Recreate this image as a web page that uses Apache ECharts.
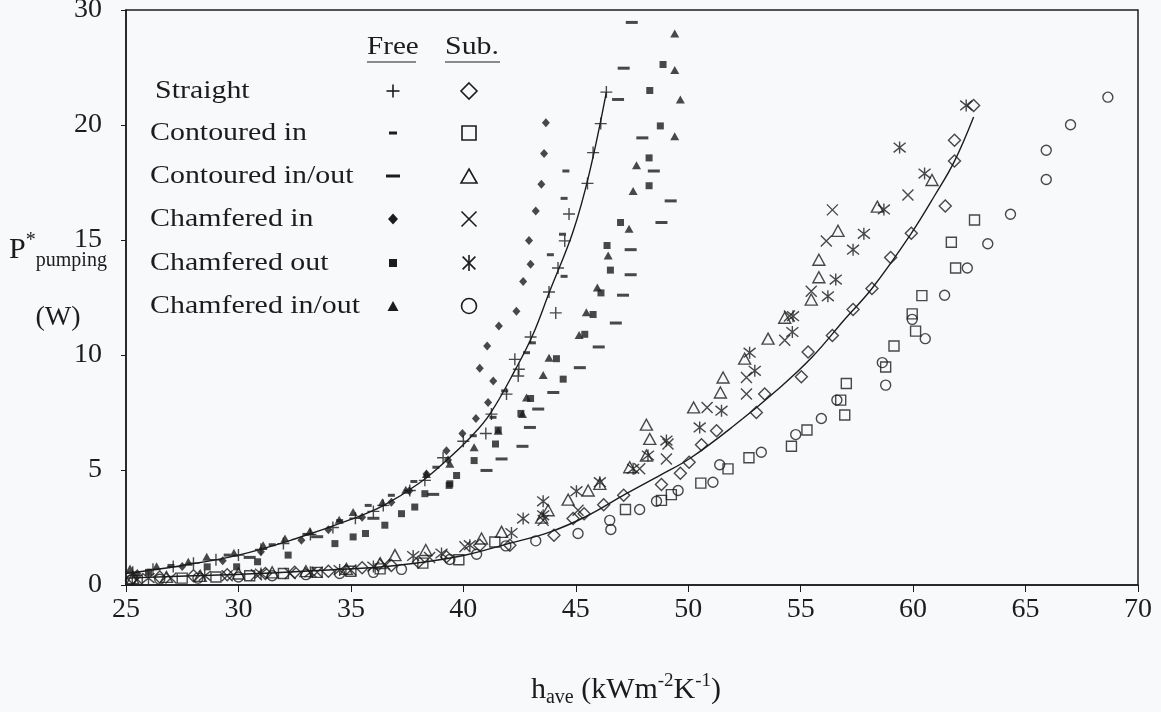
<!DOCTYPE html>
<html lang="en" style="height: 100%">
<head>
  <meta charset="utf-8">
</head>
<body style="height: 100%; margin: 0">
<div id="container" style="height: 100%"></div>

<script type="text/javascript" src="https://cdn.jsdelivr.net/npm/echarts@6/dist/echarts.min.js"></script>

<script type="text/javascript">
  // ---- data ----
  var rowNames = ['Straight', 'Contoured in', 'Contoured in/out', 'Chamfered in', 'Chamfered out', 'Chamfered in/out'];
  var yTickLabels = ['0', '5', '10', '15', '20', '30'];

  // free (filled symbols)
  var freeStraight = [[25.3,0.55],[26.2,0.68],[27.1,0.8],[28.0,0.95],[29.0,1.1],[30.0,1.3],[31.0,1.55],[32.0,1.8],[33.2,2.2],[34.2,2.5],[35.2,2.9],[36.0,3.2],[36.44,3.46],[37.62,4.11],[38.29,4.55],[39.1,5.53],[40.0,6.25],[41.0,6.59],[41.25,7.43],[41.92,8.3],[42.44,9.09],[42.47,9.38],[42.29,9.81],[42.99,10.78],[44.11,11.83],[43.81,12.74],[44.21,13.78],[44.51,14.96],[44.7,16.13],[45.52,17.46],[45.77,18.8],[46.11,20.06],[46.36,21.43]];
  var freeContIn = [[27.0,0.85],[29.5,1.3],[31.5,1.75],[33.0,2.2],[34.5,2.8],[35.77,3.46],[36.8,3.9],[37.8,4.5],[38.78,5.12],[40.44,6.49],[41.32,7.29],[41.84,8.44],[42.81,10.1],[43.07,10.53],[44.48,13.42],[43.87,14.36],[44.41,15.25],[44.48,16.81],[44.56,18.0]];
  var freeContInOut = [[30.5,1.2],[33.5,2.1],[36.0,2.9],[38.66,3.94],[41.03,4.98],[41.7,5.48],[42.63,6.03],[42.96,6.85],[43.33,7.65],[44.0,8.37],[45.18,9.45],[46.02,10.35],[46.78,11.39],[47.1,12.6],[47.44,13.49],[47.44,14.58],[48.81,15.76],[49.22,16.7],[48.47,18.0],[47.96,19.44],[46.88,21.11],[47.13,22.47],[47.49,24.46]];
  var freeChamIn = [[25.5,0.5],[27.5,0.8],[29.3,1.05],[31.0,1.45],[32.8,1.95],[34.0,2.4],[35.5,2.95],[36.8,3.6],[37.6,4.1],[38.36,4.83],[39.32,5.44],[39.25,5.84],[39.96,6.59],[40.56,7.24],[41.1,7.94],[41.33,8.87],[40.73,9.42],[41.06,10.39],[41.58,11.26],[42.36,11.9],[42.66,13.2],[42.99,13.95],[42.92,14.98],[43.22,16.26],[43.47,17.42],[43.59,18.76],[43.67,20.1]];
  var freeChamOut = [[26.0,0.55],[28.61,0.79],[29.92,0.79],[30.85,1.01],[32.21,1.3],[34.29,1.8],[35.1,2.09],[35.65,2.24],[36.51,2.6],[37.25,3.1],[37.84,3.39],[38.29,3.97],[39.37,4.33],[39.4,4.4],[39.7,4.76],[40.48,5.41],[41.43,6.13],[41.55,6.74],[42.56,7.46],[42.99,8.11],[44.44,8.95],[44.14,9.84],[45.4,10.9],[45.77,11.76],[46.12,12.7],[46.54,13.69],[46.39,14.76],[46.99,15.76],[48.26,17.36],[48.26,18.57],[48.76,19.96],[48.29,21.5],[48.88,22.63]];
  var freeChamInOut = [[25.18,0.72],[26.36,0.82],[27.77,1.01],[28.59,1.23],[29.8,1.4],[31.1,1.73],[32.07,2.02],[33.18,2.35],[34.48,2.84],[35.1,3.17],[36.4,3.6],[37.44,4.14],[38.36,4.83],[39.4,5.27],[40.48,5.99],[41.55,6.71],[42.63,7.43],[42.81,8.15],[43.55,9.13],[43.81,9.88],[45.15,10.87],[45.47,11.86],[45.96,12.94],[46.44,14.33],[47.37,15.49],[47.55,17.13],[47.7,18.25],[49.4,19.51],[49.65,21.11],[49.4,22.39],[49.4,23.98]];

  // submerged (hollow symbols)
  var subStraight = [[25.3,0.3],[26.5,0.35],[28.0,0.4],[29.5,0.45],[31.2,0.5],[32.5,0.55],[34.0,0.6],[35.5,0.75],[36.8,0.85],[38.0,1.0],[39.25,1.23],[40.73,1.73],[42.07,1.73],[44.03,2.16],[44.88,2.89],[45.37,3.1],[46.24,3.49],[47.13,3.9],[48.81,4.37],[49.65,4.86],[50.04,5.34],[50.59,6.1],[51.26,6.71],[53.03,7.5],[53.4,8.3],[55.03,9.05],[55.33,10.13],[56.41,10.85],[57.33,11.98],[58.17,12.89],[59.0,14.24],[59.92,15.29],[61.43,16.48],[61.84,18.43],[61.84,19.34],[62.69,20.85]];
  var subContIn = [[25.5,0.2],[27.5,0.3],[29.0,0.35],[30.5,0.4],[32.0,0.5],[33.5,0.55],[35.0,0.6],[36.3,0.7],[38.2,0.95],[39.8,1.1],[41.4,1.87],[47.21,3.28],[48.81,3.68],[49.25,3.93],[50.56,4.43],[51.77,5.05],[52.7,5.53],[54.59,6.03],[55.28,6.74],[56.96,7.39],[56.78,8.04],[57.03,8.76],[58.78,9.48],[59.15,10.39],[60.11,11.04],[59.96,11.79],[60.39,12.58],[61.89,13.78],[61.7,14.9],[62.73,15.87]];
  var subContInOut = [[25.3,0.3],[26.8,0.35],[28.3,0.4],[30.0,0.5],[31.5,0.55],[33.0,0.6],[34.8,0.7],[36.3,0.95],[36.96,1.3],[38.33,1.52],[40.81,2.02],[41.7,2.31],[43.48,2.93],[43.77,3.25],[44.66,3.71],[45.55,4.11],[46.07,4.4],[47.4,5.12],[48.14,5.63],[48.29,6.35],[48.14,6.97],[50.24,7.72],[51.43,8.37],[51.55,9.02],[52.51,9.84],[53.55,10.71],[54.29,11.62],[55.47,12.41],[55.81,13.38],[55.81,14.14],[56.66,15.4],[58.41,16.45],[60.84,17.61]];
  var subChamIn = [[25.5,0.25],[27.0,0.3],[29.5,0.4],[30.8,0.45],[32.3,0.5],[33.5,0.55],[35.0,0.65],[36.5,0.9],[38.5,1.2],[40.07,1.66],[43.55,2.81],[45.1,3.25],[47.84,5.05],[49.03,5.48],[49.1,6.13],[50.84,7.72],[52.59,8.3],[52.59,9.02],[54.29,10.64],[54.5,11.7],[55.47,12.77],[56.14,14.96],[56.41,16.31],[59.77,16.96]];
  var subChamOut = [[26.0,0.3],[28.5,0.4],[31.0,0.5],[33.2,0.55],[34.5,0.65],[36.0,0.8],[37.77,1.26],[39.03,1.37],[40.29,1.73],[42.14,2.26],[42.66,2.89],[43.55,3.03],[43.55,3.64],[45.03,4.08],[46.07,4.47],[47.55,5.05],[48.21,5.63],[49.03,6.28],[50.51,6.85],[51.48,7.58],[52.96,9.31],[52.73,10.1],[54.63,11.0],[54.66,11.69],[56.21,12.55],[56.56,13.28],[57.33,14.58],[57.81,15.27],[58.7,16.33],[60.51,17.89],[59.4,19.02],[62.36,20.85]];
  var subChamInOut = [[25.2,0.2],[26.5,0.25],[28.2,0.3],[30.0,0.35],[31.5,0.4],[33.0,0.45],[34.5,0.5],[36.0,0.55],[37.25,0.68],[39.4,1.11],[40.59,1.34],[41.89,1.7],[43.22,1.92],[45.1,2.24],[46.56,2.41],[46.51,2.81],[47.84,3.28],[48.59,3.64],[49.55,4.11],[51.1,4.47],[51.4,5.23],[53.25,5.77],[54.78,6.54],[55.92,7.24],[56.61,8.04],[58.78,8.69],[58.63,9.67],[60.54,10.71],[59.96,11.55],[61.4,12.6],[62.41,13.78],[63.32,14.84],[64.33,16.12],[65.92,17.63],[65.92,18.9],[67.0,20.01],[68.66,21.21]];

  // fitted curves, points
  var freeFit = [[25,0.5],[27.5,0.85],[30,1.3],[32.5,2.0],[35,2.85],[36.44,3.45],[38,4.4],[39.32,5.48],[40.3,6.4],[41.18,7.43],[42.36,9.45],[43.1,10.9],[43.84,12.77],[44.88,15.37],[45.6,17.9],[46.36,21.43]];
  var subFit = [[25,0.3],[28,0.4],[31,0.5],[34,0.65],[37,0.85],[39.84,1.25],[42,1.8],[43.84,2.3],[45.5,3.0],[47.24,3.97],[48.8,4.8],[50.07,5.5],[52,6.9],[54.07,8.58],[55.5,9.9],[57,11.6],[58.17,12.89],[59.92,15.29],[61.0,17.0],[61.84,18.43],[62.69,20.35]];

  var freeSets = [freeStraight, freeContIn, freeContInOut, freeChamIn, freeChamOut, freeChamInOut];
  var subSets = [subStraight, subContIn, subContInOut, subChamIn, subChamOut, subChamInOut];

  // ---- look ----
  var INK = '#1c1c1c';
  var BG = '#f8f9fb';
  var SERIF = '"Liberation Serif", "DejaVu Serif", serif';
  var PLUS = 'path://M0,5L10,5M5,0L5,10';
  var CROSS = 'path://M0,0L10,10M10,0L0,10';
  var STAR = 'path://M1,1L9,9M9,1L1,9M5,0L5,10';

  var freeStyles = [
    { symbol: PLUS, size: 12, stroke: true, legendSize: 13 },
    { symbol: 'rect', size: [7, 3], legendSize: [8, 3] },
    { symbol: 'rect', size: [12, 3], legendSize: [14, 3] },
    { symbol: 'diamond', size: [8, 9], legendSize: [10, 11] },
    { symbol: 'rect', size: 7, legendSize: 8 },
    { symbol: 'triangle', size: [9, 8], legendSize: [11, 10] }
  ];
  var subStyles = [
    { symbol: 'diamond', size: 12, hollow: true, legendSize: 16 },
    { symbol: 'rect', size: 10, hollow: true, legendSize: 14 },
    { symbol: 'triangle', size: [12, 11], hollow: true, legendSize: [16, 14] },
    { symbol: CROSS, size: 11, stroke: true, legendSize: 15 },
    { symbol: STAR, size: 12, stroke: true, legendSize: 16 },
    { symbol: 'circle', size: 10, hollow: true, legendSize: 15 }
  ];

  function itemStyleFor(st) {
    if (st.stroke || st.hollow) {
      return { color: 'rgba(0,0,0,0)', borderColor: INK, borderWidth: 1.4 };
    }
    return { color: INK };
  }

  var series = [];
  rowNames.forEach(function (name, i) {
    series.push({
      name: 'Free ' + name, type: 'scatter', data: freeSets[i],
      symbol: freeStyles[i].symbol, symbolSize: freeStyles[i].size,
      itemStyle: itemStyleFor(freeStyles[i]), z: 3
    });
    series.push({
      name: 'Sub. ' + name, type: 'scatter', data: subSets[i],
      symbol: subStyles[i].symbol, symbolSize: subStyles[i].size,
      itemStyle: itemStyleFor(subStyles[i]), z: 3
    });
  });
  [freeFit, subFit].forEach(function (d, k) {
    series.push({
      name: k ? 'Sub. fit' : 'Free fit', type: 'line', data: d, smooth: 0.4,
      showSymbol: false, lineStyle: { color: INK, width: 1.4 }, z: 4
    });
  });

  // legend drawn as graphic (two symbol columns)
  var rowY = [91, 133, 176, 219, 263, 306];
  function legendIcon(st, cx, cy) {
    var s = Array.isArray(st.legendSize) ? st.legendSize : [st.legendSize, st.legendSize];
    var w = s[0], h = s[1];
    var style = (st.stroke || st.hollow)
      ? { fill: 'none', stroke: INK, lineWidth: 1.6 }
      : { fill: INK };
    if (st.symbol.indexOf('path://') === 0) {
      // stroke-only symbols: turn each "Mx,yLx,y" piece into a line, in a 10x10 box
      var parts = st.symbol.slice(7).split('M').filter(Boolean);
      return {
        type: 'group', children: parts.map(function (p) {
          var q = p.split('L').map(function (xy) { return xy.split(',').map(Number); });
          return {
            type: 'line', style: { stroke: INK, lineWidth: 1.6 },
            shape: { x1: cx + (q[0][0] - 5) * w / 10, y1: cy + (q[0][1] - 5) * h / 10,
                     x2: cx + (q[1][0] - 5) * w / 10, y2: cy + (q[1][1] - 5) * h / 10 }
          };
        })
      };
    }
    if (st.symbol === 'rect') {
      return { type: 'rect', shape: { x: cx - w / 2, y: cy - h / 2, width: w, height: h }, style: style };
    }
    if (st.symbol === 'circle') {
      return { type: 'circle', shape: { cx: cx, cy: cy, r: w / 2 }, style: style };
    }
    if (st.symbol === 'diamond') {
      return { type: 'polygon', shape: { points: [[cx, cy - h / 2], [cx + w / 2, cy], [cx, cy + h / 2], [cx - w / 2, cy]] }, style: style };
    }
    return { type: 'polygon', shape: { points: [[cx, cy - h / 2], [cx + w / 2, cy + h / 2], [cx - w / 2, cy + h / 2]] }, style: style };
  }

  var LEG_FONT = '26px ' + SERIF;
  var graphics = [
    { type: 'text', x: 367, y: 47, scaleX: 1.12, style: { text: 'Free', font: LEG_FONT, fill: INK, verticalAlign: 'middle' } },
    { type: 'text', x: 445, y: 47, scaleX: 1.15, style: { text: 'Sub.', font: LEG_FONT, fill: INK, verticalAlign: 'middle' } },
    { type: 'line', shape: { x1: 367, y1: 62, x2: 416, y2: 62 }, style: { stroke: INK, lineWidth: 1 } },
    { type: 'line', shape: { x1: 445, y1: 62, x2: 500, y2: 62 }, style: { stroke: INK, lineWidth: 1 } }
  ];
  rowNames.forEach(function (name, i) {
    graphics.push({
      type: 'text', x: i === 0 ? 155 : 150, y: rowY[i], scaleX: 1.15,
      style: { text: name, font: LEG_FONT, fill: INK, verticalAlign: 'middle' }
    });
    graphics.push(legendIcon(freeStyles[i], 393, rowY[i]));
    graphics.push(legendIcon(subStyles[i], 469, rowY[i]));
  });

  var dom = document.getElementById('container');
  var myChart = echarts.init(dom, null, { renderer: 'canvas' });

  var option = {
    backgroundColor: BG,
    animation: false,
    grid: {
      left: 126, right: 23, top: 10, bottom: 127, containLabel: false, outerBoundsMode: 'none',
      show: true, borderColor: INK, borderWidth: 1.5
    },
    xAxis: {
      type: 'value', min: 25, max: 70, interval: 5,
      axisLine: { lineStyle: { color: INK, width: 1.5 } },
      axisTick: { length: 7, lineStyle: { color: INK } },
      splitLine: { show: false },
      axisLabel: { color: INK, fontFamily: SERIF, fontSize: 28, margin: 11 },
      name: '{t|h}{sub|ave}{t| (kWm}{sup|-2}{t|K}{sup|-1}{t|)}',
      nameLocation: 'middle', nameGap: 87, nameMoveOverlap: false,
      nameTextStyle: {
        padding: [0, 12, 0, 0],
        rich: {
          t: { fontFamily: SERIF, fontSize: 30, color: INK, lineHeight: 36, verticalAlign: 'middle' },
          sub: { fontFamily: SERIF, fontSize: 20, color: INK, lineHeight: 36, verticalAlign: 'bottom' },
          sup: { fontFamily: SERIF, fontSize: 19, color: INK, lineHeight: 36, verticalAlign: 'top' }
        }
      }
    },
    yAxis: {
      type: 'value', min: 0, max: 25, interval: 5,
      axisLine: { lineStyle: { color: INK, width: 1.5 } },
      axisTick: { length: 5, lineStyle: { color: INK } },
      splitLine: { show: false },
      axisLabel: {
        color: INK, fontFamily: SERIF, fontSize: 28, margin: 24,
        formatter: function (v) { return yTickLabels[Math.round(v / 5)]; }
      },
      name: '{p|P}{sup|*}{sub|pumping}\n{w|(W)}',
      nameLocation: 'middle', nameRotate: 0, nameGap: 68, nameMoveOverlap: false,
      nameTextStyle: {
        align: 'center', verticalAlign: 'middle', padding: [0, 0, 0, 0],
        rich: {
          p: { fontFamily: SERIF, fontSize: 30, color: INK, lineHeight: 40, verticalAlign: 'middle' },
          sup: { fontFamily: SERIF, fontSize: 20, color: INK, lineHeight: 40, verticalAlign: 'top' },
          sub: { fontFamily: SERIF, fontSize: 20, color: INK, lineHeight: 40, verticalAlign: 'bottom' },
          w: { fontFamily: SERIF, fontSize: 28, color: INK, lineHeight: 94, align: 'center' }
        }
      }
    },
    graphic: graphics,
    series: series
  };

  myChart.setOption(option);
  window.addEventListener('resize', myChart.resize);
</script>
</body>
</html>
